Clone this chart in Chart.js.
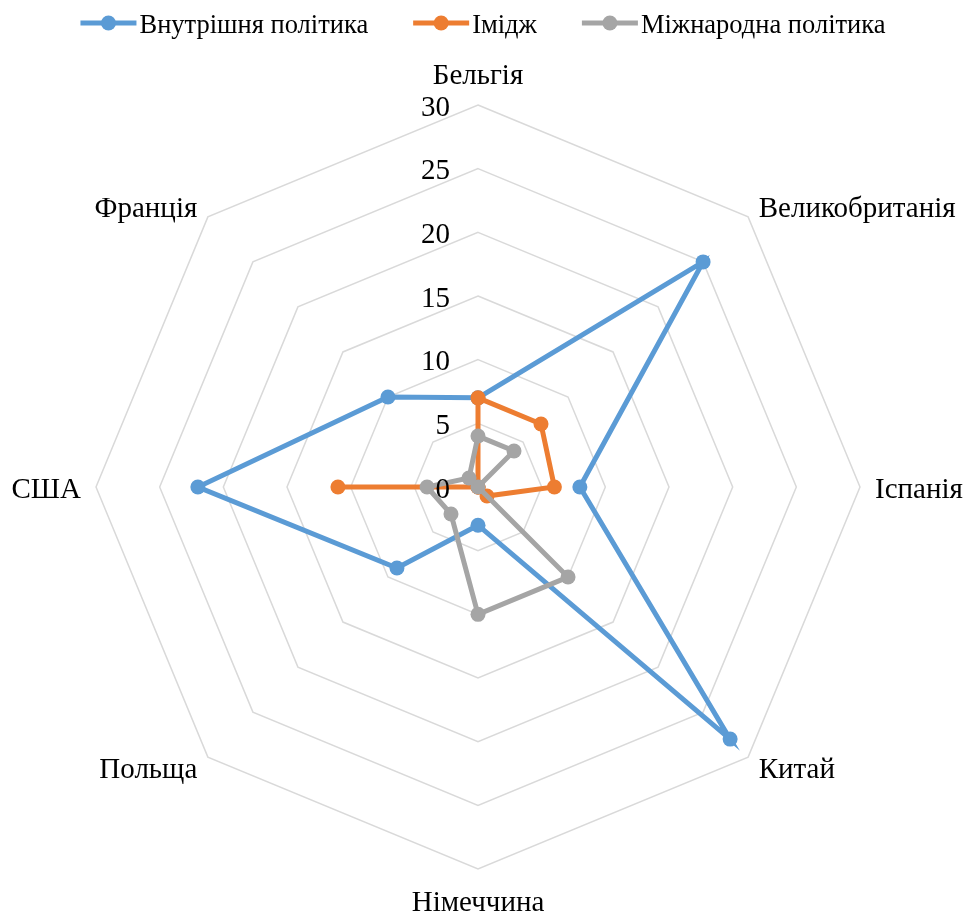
<!DOCTYPE html>
<html>
<head>
<meta charset="utf-8">
<script src="https://cdn.jsdelivr.net/npm/chart.js@4.4.1/dist/chart.umd.min.js"></script>
<style>
    body { margin: 0; background: #fff; }
    canvas { display: block; }
</style>
</head>
<body>
<canvas id="radar" width="966" height="914"></canvas>
<script>
const countries = ['Бельгія', 'Великобританія', 'Іспанія', 'Китай', 'Німеччина', 'Польща', 'США', 'Франція'];
const domestic = [7, 25, 8, 28, 3, 9, 22, 10];
const image = [7, 7, 6, 1, 0, 0, 11, 0];
const foreign = [4, 4, 0, 10, 10, 3, 4, 1];
const seriesNames = ['Внутрішня політика', 'Імідж', 'Міжнародна політика'];
const tickValues = [0, 5, 10, 15, 20, 25, 30];

const colours = ['#5B9BD5', '#ED7D31', '#A5A5A5'];
const FONT = 'Liberation Serif';
const labelSize = 29;
const legendSize = 26.5;

function makeDataset(i, values) {
    return {
        label: seriesNames[i],
        data: values,
        borderColor: colours[i],
        backgroundColor: colours[i],
        pointBackgroundColor: colours[i],
        pointBorderColor: colours[i],
        borderWidth: 5,
        pointRadius: 7.5,
        pointBorderWidth: 0,
        fill: false,
        // Excel draws later series on top
        order: 2 - i
    };
}

// legend drawn as line + marker + text, like the original
const legendPlugin = {
    id: 'lineLegend',
    afterDraw(chart) {
        const ctx = chart.ctx;
        ctx.save();
        ctx.font = legendSize + 'px "' + FONT + '"';
        const lineLen = 56;
        const textGap = 3;
        const gap = 45;
        let total = 0;
        seriesNames.forEach((name, i) => {
            total += lineLen + textGap + ctx.measureText(name).width;
            if (i < seriesNames.length - 1) total += gap;
        });
        let x = 483 - total / 2;
        const y = 23;
        seriesNames.forEach((name, i) => {
            ctx.strokeStyle = colours[i];
            ctx.fillStyle = colours[i];
            ctx.lineWidth = 5;
            ctx.beginPath();
            ctx.moveTo(x, y);
            ctx.lineTo(x + lineLen, y);
            ctx.stroke();
            ctx.beginPath();
            ctx.arc(x + lineLen / 2, y, 7.5, 0, Math.PI * 2);
            ctx.fill();
            ctx.fillStyle = '#000';
            ctx.textAlign = 'left';
            ctx.textBaseline = 'middle';
            ctx.fillText(name, x + lineLen + textGap, y + 3);
            x += lineLen + textGap + ctx.measureText(name).width + gap;
        });
        ctx.restore();
    }
};

// tick labels to the left of the axis and category labels around it
const labelPlugin = {
    id: 'radarText',
    afterDatasetsDraw(chart) {
        const scale = chart.scales.r;
        const ctx = chart.ctx;
        ctx.save();
        ctx.fillStyle = '#000';
        ctx.font = labelSize + 'px "' + FONT + '"';
        ctx.textBaseline = 'middle';
        ctx.textAlign = 'right';
        tickValues.forEach(v => {
            const d = scale.getDistanceFromCenterForValue(v);
            ctx.fillText(String(v), scale.xCenter - 28, scale.yCenter - d + 3);
        });
        countries.forEach((name, i) => {
            let extra = 15;
            if (i === 0) extra = 32;
            if (i === 4) extra = 31;
            const p = scale.getPointPosition(i, scale.drawingArea + extra);
            if (Math.abs(p.x - scale.xCenter) < 1) ctx.textAlign = 'center';
            else if (p.x > scale.xCenter) ctx.textAlign = 'left';
            else ctx.textAlign = 'right';
            ctx.fillText(name, p.x, p.y + 3);
        });
        ctx.restore();
    }
};

const ctx = document.getElementById('radar').getContext('2d');
const myChart = new Chart(ctx, {
    type: 'radar',
    data: {
        labels: countries,
        datasets: [
            makeDataset(0, domestic),
            makeDataset(1, image),
            makeDataset(2, foreign)
        ]
    },
    options: {
        responsive: false,
        animation: false,
        elements: { line: { tension: 0 } },
        plugins: {
            legend: { display: false },
            tooltip: { enabled: false }
        },
        scales: {
            r: {
                min: 0,
                max: 30,
                ticks: { stepSize: 5, display: false },
                grid: { color: '#D9D9D9', lineWidth: 1.5 },
                angleLines: { display: false },
                pointLabels: { display: false },
                afterFit(scale) {
                    scale.xCenter = 478;
                    scale.yCenter = 487;
                    scale.drawingArea = 382;
                }
            }
        }
    },
    plugins: [legendPlugin, labelPlugin]
});
</script>
</body>
</html>
